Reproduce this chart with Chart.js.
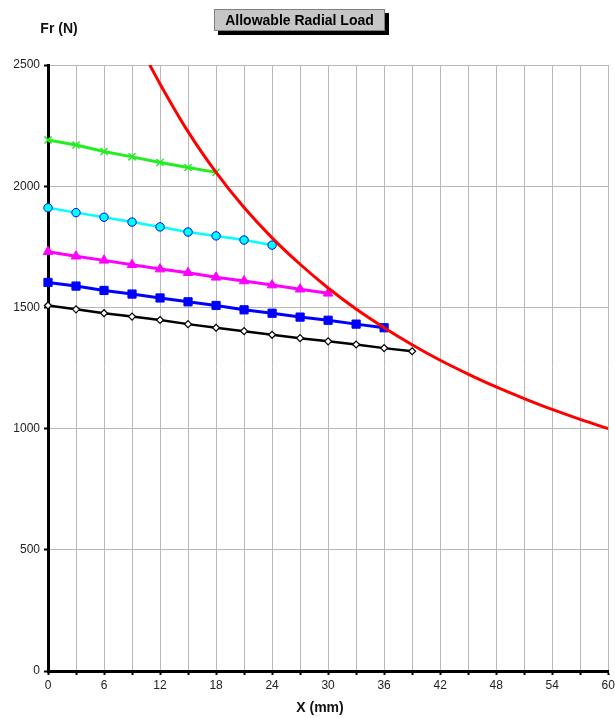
<!DOCTYPE html>
<html><head><meta charset="utf-8">
<script src="https://cdn.jsdelivr.net/npm/chart.js@4/dist/chart.umd.min.js"></script>
<style>html,body{margin:0;padding:0;background:#fff}#wrap{position:relative;width:615px;height:718px}</style>
</head><body><div id="wrap"><canvas id="c" width="615" height="718"></canvas></div>
<script>
// Data
const greenX   = [0,3,6,9,12,15,18];
const greenY   = [2191,2170,2143,2121,2098,2077,2057];
const cyanX    = [0,3,6,9,12,15,18,21,24];
const cyanY    = [1911,1891,1872,1852,1832,1811,1795,1778,1757];
const magentaX = [0,3,6,9,12,15,18,21,24,27,30];
const magentaY = [1730,1711,1694,1676,1658,1643,1624,1609,1592,1575,1558];
const blueX    = [0,3,6,9,12,15,18,21,24,27,30,33,36];
const blueY    = [1603,1588,1570,1555,1539,1523,1508,1490,1476,1460,1447,1431,1416];
const blackX   = [0,3,6,9,12,15,18,21,24,27,30,33,36,39];
const blackY   = [1508,1492,1476,1462,1448,1431,1416,1402,1387,1373,1360,1347,1332,1319];
const redX     = [10.9,12,15,18,21,24,27,30,33,36,39,42,45,48,51,54,57,60];
const redY     = [2500,2422,2225,2057,1912,1787,1678,1580,1493,1416,1346,1282,1225,1172,1124,1079,1038,1000];
const xTicks   = [0,6,12,18,24,30,36,42,48,54,60];
const yTicks   = [0,500,1000,1500,2000,2500];
const titleText = 'Allowable Radial Load';
const yTitle = 'Fr (N)';
const xTitle = 'X (mm)';

const pts = (xs, ys) => xs.map((x, i) => ({x, y: ys[i]}));
const FONT = '"Liberation Sans", Arial, sans-serif';

const textPlugin = {
  id: 'texts',
  afterDraw(chart) {
    const ctx = chart.ctx;
    ctx.save();
    const bx = 214, by = 9, bw = 171, bh = 22;
    ctx.fillStyle = '#000';
    ctx.fillRect(bx + 4, by + 4, bw, bh);
    ctx.fillStyle = '#c6c6c6';
    ctx.fillRect(bx, by, bw, bh);
    ctx.strokeStyle = '#808080';
    ctx.lineWidth = 1;
    ctx.strokeRect(bx + 0.5, by + 0.5, bw - 1, bh - 1);
    ctx.fillStyle = '#000';
    ctx.font = 'bold 14px ' + FONT;
    ctx.textAlign = 'center';
    ctx.textBaseline = 'middle';
    ctx.fillText(titleText, bx + bw / 2, by + bh / 2 + 1);
    ctx.fillStyle = '#111';
    ctx.fillText(yTitle, 59, 29);
    ctx.fillText(xTitle, 320, 708);
    ctx.restore();
  }
};

new Chart(document.getElementById('c'), {
  type: 'scatter',
  data: {
    datasets: [
      { label: 'red', data: pts(redX, redY), showLine: true, borderColor: '#ff0000', borderWidth: 3,
        pointRadius: 0, cubicInterpolationMode: 'monotone', order: 0 },
      { label: 'green', data: pts(greenX, greenY), showLine: true, borderColor: '#22ee22', borderWidth: 3, clip: false,
        pointStyle: 'crossRot', pointRadius: 5, pointBorderColor: '#22ee22', pointBorderWidth: 1.5, order: 1 },
      { label: 'cyan', data: pts(cyanX, cyanY), showLine: true, borderColor: '#00ffff', borderWidth: 2.5, clip: false,
        pointStyle: 'circle', pointRadius: 4.2, pointBackgroundColor: '#00ffff', pointBorderColor: '#0000ff', pointBorderWidth: 1, order: 2 },
      { label: 'magenta', data: pts(magentaX, magentaY), showLine: true, borderColor: '#ff00ff', borderWidth: 3, clip: false,
        pointStyle: 'triangle', pointRadius: 5.5, pointBackgroundColor: '#ff00ff', pointBorderColor: '#ff00ff', pointBorderWidth: 1, order: 3 },
      { label: 'blue', data: pts(blueX, blueY), showLine: true, borderColor: '#0000ff', borderWidth: 3, clip: false,
        pointStyle: 'rect', pointRadius: 5.8, pointBackgroundColor: '#0000ff', pointBorderColor: '#0000ff', pointBorderWidth: 1, order: 4 },
      { label: 'black', data: pts(blackX, blackY), showLine: true, borderColor: '#000', borderWidth: 2.5, clip: false,
        pointStyle: 'rectRot', pointRadius: 3.5, pointBackgroundColor: '#fff', pointBorderColor: '#000', pointBorderWidth: 1.2, order: 5 }
    ]
  },
  options: {
    responsive: false,
    animation: false,
    layout: { padding: { top: 65, right: 6, left: 0, bottom: 0 } },
    plugins: { legend: { display: false }, tooltip: { enabled: false }, title: { display: false } },
    scales: {
      x: {
        type: 'linear', min: 0, max: 60,
        afterFit(s) { s.height = 47; s.paddingRight = 0; s.paddingLeft = 0; },
        afterBuildTicks(s) { s.ticks = []; for (let v = 0; v <= 60; v += 3) s.ticks.push({ value: v }); },
        ticks: {
          autoSkip: false, maxRotation: 0, padding: 3,
          font: { family: FONT, size: 12 }, color: '#222',
          callback: v => xTicks.includes(v) ? String(v) : ''
        },
        grid: { color: '#b8b8b8', lineWidth: 1, tickLength: 4, tickColor: '#000', tickWidth: 2 },
        border: { color: '#000', width: 3 }
      },
      y: {
        type: 'linear', min: 0, max: 2500,
        afterFit(s) { s.width = 48; s.paddingTop = 0; s.paddingBottom = 0; },
        afterBuildTicks(s) { s.ticks = yTicks.map(v => ({ value: v })); },
        ticks: { padding: 4, font: { family: FONT, size: 12 }, color: '#222', callback: v => String(v) },
        grid: { color: '#b8b8b8', lineWidth: 1, tickLength: 4, tickColor: '#000', tickWidth: 2 },
        border: { color: '#000', width: 3 }
      }
    }
  },
  plugins: [textPlugin]
});
</script>
</body></html>
